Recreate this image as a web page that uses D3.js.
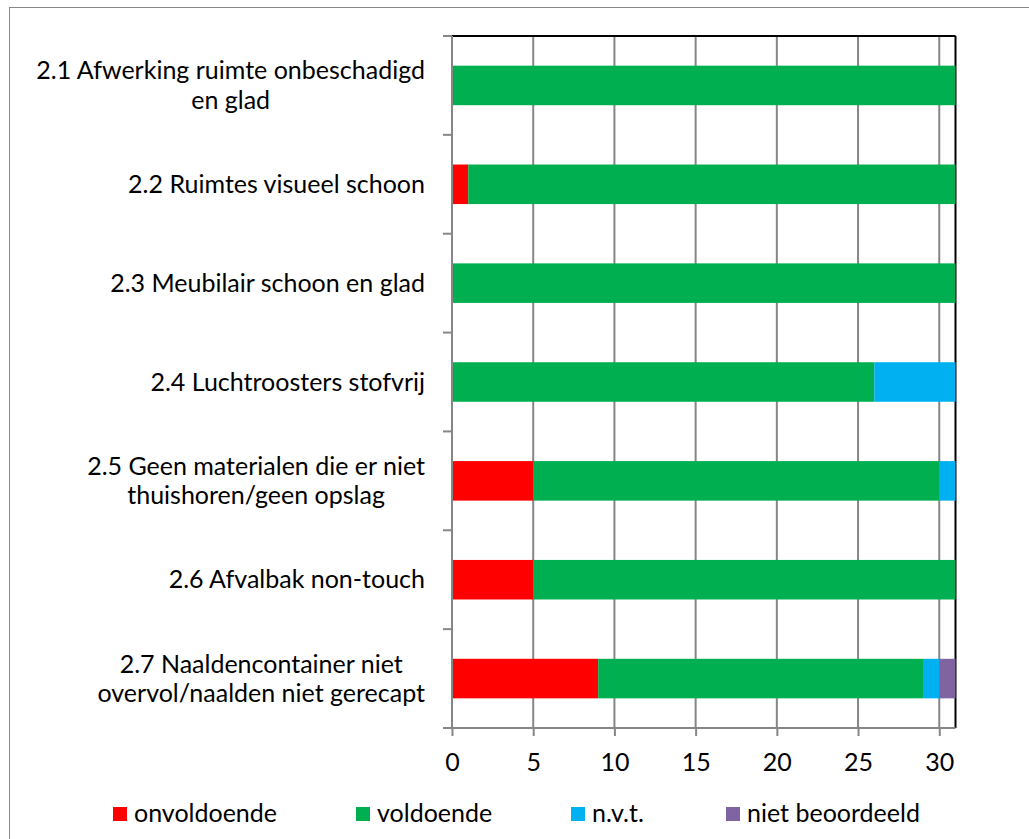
<!DOCTYPE html>
<html><head><meta charset="utf-8">
<script src="https://cdn.jsdelivr.net/npm/d3@7"></script>
<style>body{margin:0;background:#fff;} svg{display:block;font-family:Lato,"Open Sans",sans-serif;}</style>
</head><body>
<svg id="c" width="1029" height="839"></svg>
<script>
const categories = [
  "2.1 Afwerking ruimte onbeschadigd\nen glad",
  "2.2 Ruimtes visueel schoon",
  "2.3 Meubilair schoon en glad",
  "2.4 Luchtroosters stofvrij",
  "2.5 Geen materialen die er niet\nthuishoren/geen opslag",
  "2.6 Afvalbak non-touch",
  "2.7 Naaldencontainer niet\novervol/naalden niet gerecapt"
];
const seriesNames = ["onvoldoende", "voldoende", "n.v.t.", "niet beoordeeld"];
const seriesColors = ["#ff0000", "#00b050", "#00b0f0", "#8064a2"];
const onvoldoende = [0, 1, 0, 0, 5, 5, 9];
const voldoende = [31, 30, 31, 26, 25, 26, 20];
const nvt = [0, 0, 0, 5, 1, 0, 1];
const nietBeoordeeld = [0, 0, 0, 0, 0, 0, 1];
const xTicks = [0, 5, 10, 15, 20, 25, 30];
const xMax = 31;

const svg = d3.select("#c");
const L = 452, R = 955.5, T = 36, B = 728;
const FS = 25;

// outer border
svg.append("rect").attr("x", 9.5).attr("y", 7.5).attr("width", 1040).attr("height", 900)
  .attr("fill", "none").attr("stroke", "#888").attr("stroke-width", 1);

const x = d3.scaleLinear().domain([0, xMax]).range([L, R]);
const y = d3.scaleBand().domain(categories).range([T, B]).paddingInner(0.6).paddingOuter(0.3);

// gridlines
svg.append("g").selectAll("line").data(xTicks.slice(1)).join("line")
  .attr("x1", d => x(d)).attr("x2", d => x(d)).attr("y1", T).attr("y2", B)
  .attr("stroke", "#868686").attr("stroke-width", 2);

// plot area top and right border
svg.append("line").attr("x1", L).attr("x2", R).attr("y1", T).attr("y2", T).attr("stroke", "#000").attr("stroke-width", 2);
svg.append("line").attr("x1", R).attr("x2", R).attr("y1", T).attr("y2", B).attr("stroke", "#000").attr("stroke-width", 2);

// stacked bars
const rows = categories.map((c, i) => ({cat: c, onvoldoende: onvoldoende[i], voldoende: voldoende[i], "n.v.t.": nvt[i], "niet beoordeeld": nietBeoordeeld[i]}));
const stack = d3.stack().keys(seriesNames)(rows);
svg.append("g").selectAll("g").data(stack).join("g")
  .attr("fill", (d, i) => seriesColors[i])
  .selectAll("rect").data(d => d).join("rect")
  .attr("x", d => x(d[0])).attr("width", d => x(d[1]) - x(d[0]))
  .attr("y", d => y(d.data.cat)).attr("height", y.bandwidth());

// x axis
const xAxis = d3.axisBottom(x).tickValues(xTicks).tickSize(8).tickSizeOuter(0);
const gx = svg.append("g").attr("transform", `translate(0,${B})`).call(xAxis);
gx.select(".domain").attr("stroke", "#868686").attr("stroke-width", 2).attr("d", `M${L},0H${R}`);
gx.selectAll(".tick line").attr("stroke", "#868686").attr("stroke-width", 2);
gx.selectAll(".tick text").attr("font-size", FS).attr("fill", "#000").attr("font-family", "Lato,sans-serif")
  .attr("y", 34).attr("dy", "0.35em");

// y axis line and ticks at band boundaries
const step = (B - T) / categories.length;
svg.append("line").attr("x1", L).attr("x2", L).attr("y1", T).attr("y2", B).attr("stroke", "#868686").attr("stroke-width", 2);
svg.append("g").selectAll("line").data(d3.range(categories.length + 1)).join("line")
  .attr("x1", L - 9).attr("x2", L).attr("y1", d => T + d * step).attr("y2", d => T + d * step)
  .attr("stroke", "#868686").attr("stroke-width", 2);

// category labels
const labelRight = 425;
categories.forEach((c, i) => {
  const lines = c.split("\n");
  const cy = y(c) + y.bandwidth() / 2;
  const lh = 29.5;
  const g = svg.append("g");
  const texts = lines.map((ln, j) => g.append("text").text(ln)
    .attr("font-size", FS).attr("fill", "#000").attr("text-anchor", "middle")
    .attr("y", cy + (j - (lines.length - 1) / 2) * lh).attr("dy", "0.35em"));
  const maxW = d3.max(texts, t => t.node().getComputedTextLength());
  texts.forEach(t => t.attr("x", labelRight - maxW / 2));
});

// legend
const legendX = [113, 356, 571, 726];
const lg = svg.append("g");
seriesNames.forEach((n, i) => {
  lg.append("rect").attr("x", legendX[i]).attr("y", 807).attr("width", 14).attr("height", 14).attr("fill", seriesColors[i]);
  lg.append("text").attr("x", legendX[i] + 21).attr("y", 813).attr("dy", "0.35em")
    .attr("font-size", FS).attr("fill", "#000").text(n);
});
</script>
</body></html>
